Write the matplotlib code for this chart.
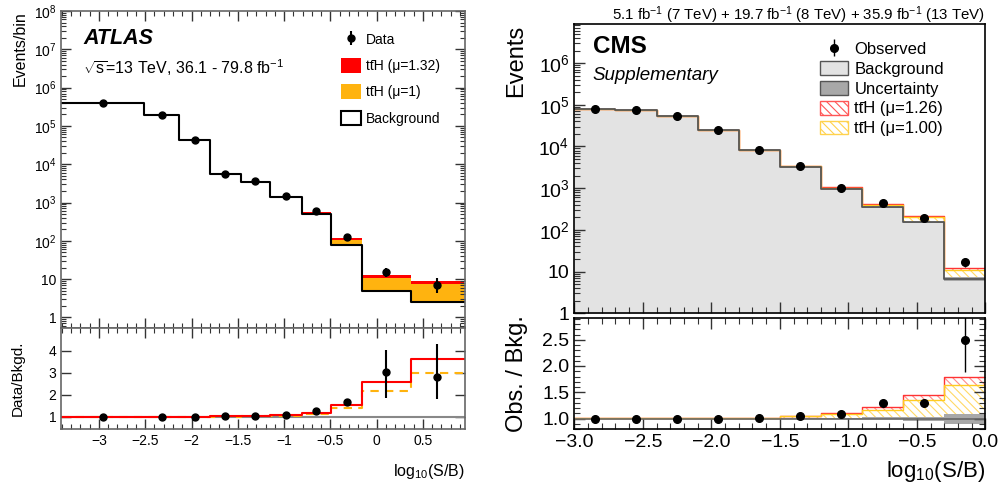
import numpy as np
import matplotlib
matplotlib.use('Agg')
import matplotlib.pyplot as plt
from matplotlib.ticker import FixedLocator, MultipleLocator, FuncFormatter, NullFormatter
from matplotlib.patches import Patch

plt.rcParams['font.family'] = ['Liberation Sans', 'DejaVu Sans']
plt.rcParams['mathtext.fontset'] = 'custom'
plt.rcParams['mathtext.rm'] = 'Liberation Sans'
plt.rcParams['mathtext.it'] = 'Liberation Sans:italic'
plt.rcParams['mathtext.bf'] = 'Liberation Sans:bold'
plt.rcParams['hatch.linewidth'] = 0.8
plt.rcParams['axes.unicode_minus'] = True

# ---------------- ATLAS data ----------------
atlas_edges = [-3.41, -2.51, -2.13, -1.80, -1.47, -1.15, -0.81, -0.49, -0.16, 0.37, 0.94]
atlas_bkg = [4.0e5, 1.95e5, 4.2e4, 5.5e3, 3.5e3, 1.4e3, 490, 77, 4.95, 2.5]
atlas_tth = [300, 150, 160, 42, 80, 74, 56, 31, 5.85, 4.94]
atlas_mu = 1.32
atlas_data_x = [-2.96, -2.32, -1.96, -1.64, -1.31, -0.98, -0.65, -0.32, 0.10, 0.65]
atlas_data = [4.0e5, 1.95e5, 4.2e4, 5.55e3, 3.6e3, 1.5e3, 610, 128, 15.0, 7.0]
atlas_err_up = [630, 440, 205, 75, 60, 39, 25, 11, 4.0, 3.4]
atlas_err_dn = [630, 440, 205, 75, 60, 39, 25, 11, 3.6, 2.6]
atlas_rerr_up = [0.0, 0.0, 0.0, 0.01, 0.01, 0.02, 0.04, 0.12, 0.98, 1.5]
atlas_rerr_dn = [0.0, 0.0, 0.0, 0.01, 0.01, 0.02, 0.04, 0.12, 1.16, 1.01]

# ---------------- CMS data ----------------
cms_edges = [-3.0, -2.7, -2.4, -2.1, -1.8, -1.5, -1.2, -0.9, -0.6, -0.3, 0.0]
cms_bkg = [7.8e4, 7.4e4, 5.4e4, 2.44e4, 8.1e3, 3.25e3, 945, 346, 151, 6.7]
cms_tth = [78, 148, 162, 122, 97, 130, 76, 58, 53, 4.25]
cms_mu = 1.26
cms_obs_x = [-2.85, -2.55, -2.25, -1.95, -1.65, -1.35, -1.05, -0.75, -0.45, -0.15]
cms_obs = [7.8e4, 7.4e4, 5.4e4, 2.44e4, 8.2e3, 3.4e3, 1.03e3, 450, 196, 16.7]
cms_obs_err = [280, 270, 230, 156, 90, 58, 32, 21, 14, 4.0]
cms_rerr = [0.0, 0.0, 0.0, 0.0, 0.01, 0.02, 0.03, 0.05, 0.06, 0.6]
cms_unc_lo = [0.995, 0.995, 0.995, 0.995, 0.993, 0.99, 0.985, 0.985, 0.945, 0.90]
cms_unc_hi = [1.005, 1.005, 1.005, 1.005, 1.007, 1.01, 1.01, 1.02, 1.02, 1.09]

TTH = 'tt\u0304H'


def ext(v):
    v = np.asarray(v, dtype=float)
    return np.append(v, v[-1])


def logfmt(v, pos):
    if v <= 0:
        return ''
    e = int(round(np.log10(v)))
    if abs(np.log10(v) - e) > 1e-6:
        return ''
    if e == 0:
        return '1'
    if e == 1:
        return '10'
    return r'$\mathregular{10^{%d}}$' % e


def numfmt(fmt):
    return FuncFormatter(lambda v, p: (fmt % v).replace('-', '\u2212'))


def log_ticks(lo, hi):
    majors = [10.0 ** k for k in range(-2, 10) if lo <= 10.0 ** k <= hi * 1.0001]
    minors = [m * 10.0 ** k for k in range(-2, 10) for m in range(2, 10)
              if lo <= m * 10.0 ** k <= hi]
    return majors, minors


fig = plt.figure(figsize=(10.01, 4.91), dpi=100)
W, H = 1001.0, 491.0


def rect(x0, y0, x1, y1):
    return [x0 / W, 1 - y1 / H, (x1 - x0) / W, (y1 - y0) / H]


# ============ ATLAS ============
axA = fig.add_axes(rect(61, 11, 465, 328))
axAr = fig.add_axes(rect(61, 328, 465, 429), sharex=axA)

e = np.array(atlas_edges)
bkg = np.array(atlas_bkg)
sig = np.array(atlas_tth)
axA.fill_between(e, ext(bkg), ext(bkg + atlas_mu * sig), step='post', color='#ff0000', lw=0)
axA.fill_between(e, ext(bkg), ext(bkg + sig), step='post', color='#ffb30f', lw=0)
axA.step(e, ext(bkg), where='post', color='black', lw=1.5)
data_h = axA.errorbar(atlas_data_x, atlas_data, yerr=[atlas_err_dn, atlas_err_up], fmt='o',
                      color='black', ms=5, elinewidth=1.5, capsize=0)
axA.set_yscale('log')
axA.set_ylim(0.53, 1e8)
axA.set_xlim(-3.41, 0.955)
maj, mnr = log_ticks(0.53, 1e8)
axA.yaxis.set_major_locator(FixedLocator(maj))
axA.yaxis.set_minor_locator(FixedLocator(mnr))
axA.yaxis.set_major_formatter(FuncFormatter(logfmt))
axA.yaxis.set_minor_formatter(NullFormatter())
axA.xaxis.set_major_locator(MultipleLocator(0.5))
axA.xaxis.set_minor_locator(MultipleLocator(0.1))
axA.tick_params(axis='x', labelbottom=False)
for ax in (axA, axAr):
    ax.tick_params(which='both', direction='in', top=True, right=True, labelsize=10, color='#333333')
    ax.tick_params(which='major', length=7, width=1)
    ax.tick_params(which='minor', length=3.5, width=0.8)
    for s in ax.spines.values():
        s.set_color('#666666')
        s.set_linewidth(1.2)

axA.set_ylabel('Events/bin', fontsize=11.5, loc='top', labelpad=4)

axA.text(0.055, 0.895, 'ATLAS', transform=axA.transAxes, fontsize=15.5,
         fontweight='bold', style='italic', va='baseline')
axA.text(0.055, 0.80, r'$\sqrt{\mathregular{s}}$=13 TeV, 36.1 - 79.8 fb$^{\mathregular{-1}}$',
         transform=axA.transAxes, fontsize=11.5, va='baseline')

hA = [
    data_h,
    Patch(facecolor='#ff0000', edgecolor='none'),
    Patch(facecolor='#ffb30f', edgecolor='none'),
    Patch(facecolor='white', edgecolor='black', lw=1.5),
]
lA = ['Data', TTH + ' (μ=1.32)', TTH + ' (μ=1)', 'Background']
axA.legend(hA, lA, loc='upper left', bbox_to_anchor=(0.675, 0.955), frameon=False, fontsize=10,
           handlelength=1.45, handleheight=1.25, handletextpad=0.35, labelspacing=0.8, borderpad=0)

# ATLAS ratio
ratio_red = (bkg + atlas_mu * sig) / bkg
ratio_org = (bkg + sig) / bkg
axAr.axhline(1.0, color='#888888', lw=1.5)
axAr.step(e, ext(ratio_org), where='post', color='#ffb30f', lw=1.5, ls=(0, (4, 3)))
axAr.step(e, ext(ratio_red), where='post', color='#ff0000', lw=1.5)
axAr.errorbar(atlas_data_x, np.array(atlas_data) / bkg, yerr=[atlas_rerr_dn, atlas_rerr_up],
              fmt='o', color='black', ms=5, elinewidth=1.5, capsize=0)
axAr.set_ylim(0.44, 5.03)
axAr.yaxis.set_major_locator(FixedLocator([1, 2, 3, 4]))
axAr.yaxis.set_minor_locator(FixedLocator([]))
axAr.xaxis.set_major_formatter(numfmt('%g'))
axAr.set_ylabel('Data/Bkgd.', fontsize=11, labelpad=17)
axAr.set_xlabel(r'log$_{\mathregular{10}}$(S/B)', fontsize=11.5, loc='right', labelpad=10)

# ============ CMS ============
axC = fig.add_axes(rect(574.3, 24.3, 985.3, 313.3))
axCr = fig.add_axes(rect(574.3, 317.7, 985.3, 429), sharex=axC)

ce = np.array(cms_edges)
cb = np.array(cms_bkg)
cs = np.array(cms_tth)
bkg_col = '#e3e3e3'
red_h = '#ff8a8a'
yel_h = '#ffd966'
axC.fill_between(ce, 0.1, ext(cb), step='post', color=bkg_col, lw=0)
axC.fill_between(ce, ext(cb), ext(cb + cms_mu * cs), step='post', facecolor='white',
                 edgecolor=red_h, hatch='\\\\\\\\', lw=0)
axC.fill_between(ce, ext(cb), ext(cb + cs), step='post', facecolor='white',
                 edgecolor=yel_h, hatch='\\\\\\\\', lw=0)
axC.step(ce, ext(cb + cms_mu * cs), where='post', color='#ff3333', lw=1.0)
axC.step(ce, ext(cb + cs), where='post', color='#ffcc22', lw=1.0)
axC.fill_between(ce, ext(cb * np.array(cms_unc_lo)), ext(cb * np.array(cms_unc_hi)),
                 step='post', color='#a8a8a8', lw=0)
axC.step(ce, ext(cb), where='post', color='#555555', lw=1.3)
obs_h = axC.errorbar(cms_obs_x, cms_obs, yerr=cms_obs_err, fmt='o', color='black', ms=5.5,
                     elinewidth=1.0, capsize=0)
axC.set_yscale('log')
axC.set_ylim(1, 8.5e6)
axC.set_xlim(-3.0, 0.0)
maj, mnr = log_ticks(1, 8.5e6)
axC.yaxis.set_major_locator(FixedLocator(maj))
axC.yaxis.set_minor_locator(FixedLocator(mnr))
axC.yaxis.set_major_formatter(FuncFormatter(logfmt))
axC.yaxis.set_minor_formatter(NullFormatter())
axC.xaxis.set_major_locator(MultipleLocator(0.5))
axC.xaxis.set_minor_locator(MultipleLocator(0.1))
axC.tick_params(axis='x', labelbottom=False)
axC.tick_params(which='both', direction='in', top=False, right=False, labelsize=14, color='#333333')
axC.tick_params(which='major', length=8, width=1)
axC.tick_params(which='minor', length=4, width=0.8)
axCr.tick_params(which='both', direction='in', top=True, right=True, labelsize=14, color='#333333')
axCr.tick_params(which='major', length=8, width=1)
axCr.tick_params(which='minor', length=4, width=0.8)
for ax in (axC, axCr):
    for s in ax.spines.values():
        s.set_color('black')
        s.set_linewidth(1.2)
axC.set_ylabel('Events', fontsize=17, loc='top', labelpad=8)

axC.text(0.045, 0.90, 'CMS', transform=axC.transAxes, fontsize=17.5, fontweight='bold',
         va='baseline')
axC.text(0.045, 0.807, 'Supplementary', transform=axC.transAxes, fontsize=13.5, style='italic',
         va='baseline')
axC.text(1.0, 1.014, r'5.1 fb$^{\mathregular{-1}}$ (7 TeV) + 19.7 fb$^{\mathregular{-1}}$ (8 TeV) + 35.9 fb$^{\mathregular{-1}}$ (13 TeV)',
         transform=axC.transAxes, ha='right', va='baseline', fontsize=10.8)

hC = [
    obs_h,
    Patch(facecolor=bkg_col, edgecolor='#555555', lw=1),
    Patch(facecolor='#a8a8a8', edgecolor='#555555', lw=1),
    Patch(facecolor='white', edgecolor='#ff5555', hatch='\\\\\\\\', lw=1),
    Patch(facecolor='white', edgecolor='#ffd24d', hatch='\\\\\\\\', lw=1),
]
lC = ['Observed', 'Background', 'Uncertainty', TTH + ' (μ=1.26)', TTH + ' (μ=1.00)']
axC.legend(hC, lC, loc='upper left', bbox_to_anchor=(0.578, 0.97), frameon=False, fontsize=12,
           handlelength=1.65, handleheight=0.9, handletextpad=0.4, labelspacing=0.25, borderpad=0)

# CMS ratio
cr_red = (cb + cms_mu * cs) / cb
cr_yel = (cb + cs) / cb
axCr.fill_between(ce, 1.0, ext(cr_red), step='post', facecolor='white', edgecolor=red_h,
                  hatch='\\\\\\\\', lw=0)
axCr.fill_between(ce, 1.0, ext(cr_yel), step='post', facecolor='white', edgecolor=yel_h,
                  hatch='\\\\\\\\', lw=0)
axCr.step(ce, ext(cr_red), where='post', color='#ff3333', lw=1.0)
axCr.step(ce, ext(cr_yel), where='post', color='#ffcc22', lw=1.0)
axCr.fill_between(ce, ext(cms_unc_lo), ext(cms_unc_hi), step='post', color='#a8a8a8', lw=0)
axCr.axhline(1.0, color='#666666', lw=1.2)
axCr.errorbar(cms_obs_x, np.array(cms_obs) / cb, yerr=cms_rerr, fmt='o', color='black', ms=5.5,
              elinewidth=1.0, capsize=0)
axCr.set_ylim(0.8, 2.92)
axCr.yaxis.set_major_locator(MultipleLocator(0.5))
axCr.yaxis.set_minor_locator(MultipleLocator(0.1))
axCr.yaxis.set_major_formatter(numfmt('%.1f'))
axCr.xaxis.set_major_formatter(numfmt('%.1f'))
axCr.set_ylabel('Obs. / Bkg.', fontsize=17, labelpad=10)
axCr.set_xlabel(r'log$_{\mathregular{10}}$(S/B)', fontsize=16, loc='right', labelpad=6)

fig.savefig('out.png', dpi=100)
